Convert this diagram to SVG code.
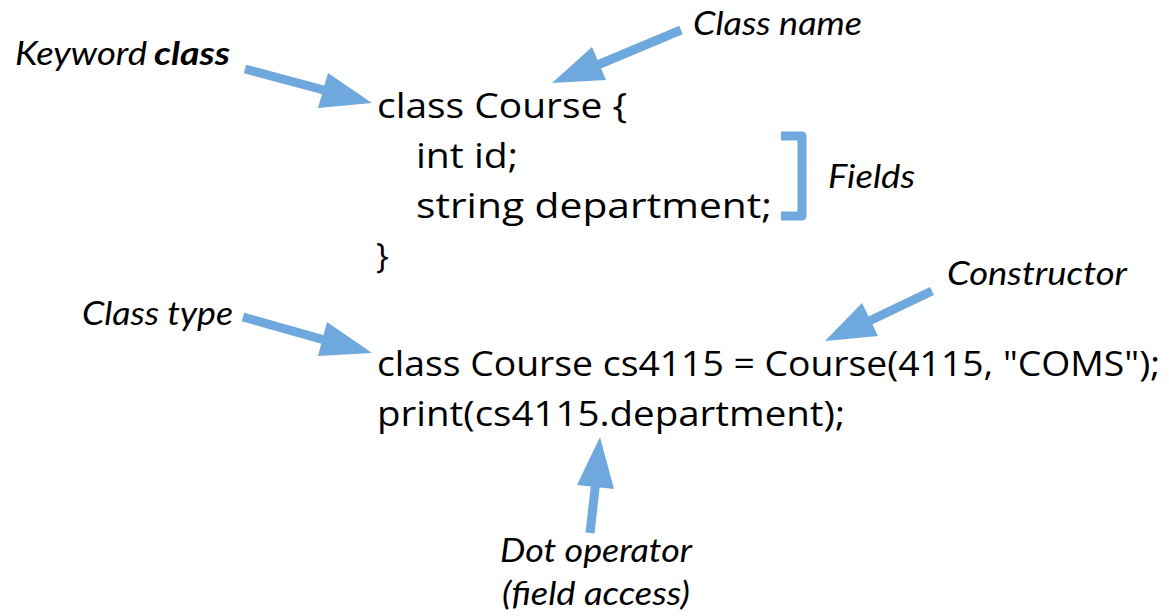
<svg xmlns="http://www.w3.org/2000/svg" width="1169" height="616" viewBox="0 0 1169 616">
<style>
.code{font-family:"Open Sans","Noto Sans",sans-serif;font-size:34px;fill:#000}
.lbl{font-family:Lato,"Liberation Sans",sans-serif;font-style:italic;font-size:32px;fill:#000}
.b{font-weight:bold}
.ln{stroke:#6fa8dc;stroke-width:9;fill:none}
.hd{fill:#6fa8dc}
</style>
<rect width="1169" height="616" fill="#fff"/>
<g id="code">
<text class="code" x="377" y="118" textLength="250" lengthAdjust="spacingAndGlyphs">class Course {</text>
<text class="code" x="416" y="168" textLength="102" lengthAdjust="spacingAndGlyphs">int id;</text>
<text class="code" x="416" y="218" textLength="356" lengthAdjust="spacingAndGlyphs">string department;</text>
<text class="code" x="376" y="268">}</text>
<text class="code" x="377" y="376" textLength="783" lengthAdjust="spacingAndGlyphs">class Course cs4115 = Course(4115, "COMS");</text>
<text class="code" x="377" y="426" textLength="468" lengthAdjust="spacingAndGlyphs">print(cs4115.department);</text>
</g>
<g id="label-keyword"><text class="lbl" x="15" y="65" textLength="132" lengthAdjust="spacingAndGlyphs">Keyword</text><text class="lbl b" x="154" y="65" textLength="76" lengthAdjust="spacingAndGlyphs">class</text></g>
<g id="label-classname"><text class="lbl" x="693" y="35" textLength="169" lengthAdjust="spacingAndGlyphs">Class name</text></g>
<g id="label-fields"><text class="lbl" x="828" y="188" textLength="87" lengthAdjust="spacingAndGlyphs">Fields</text></g>
<g id="label-constructor"><text class="lbl" x="947" y="285" textLength="180" lengthAdjust="spacingAndGlyphs">Constructor</text></g>
<g id="label-classtype"><text class="lbl" x="82" y="325" textLength="151" lengthAdjust="spacingAndGlyphs">Class type</text></g>
<g id="label-dot"><text class="lbl" x="500" y="562" textLength="192" lengthAdjust="spacingAndGlyphs">Dot operator</text><text class="lbl" x="502" y="605" textLength="188" lengthAdjust="spacingAndGlyphs">(field access)</text></g>
<g id="connectors">
<line class="ln" x1="245" y1="69" x2="335" y2="93"/>
<polygon class="hd" points="372,103 328,73 318,108"/>
<line class="ln" x1="681" y1="30" x2="595" y2="66"/>
<polygon class="hd" points="552,83 592,47 606,80"/>
<line class="ln" x1="243" y1="317" x2="335" y2="343"/>
<polygon class="hd" points="372,353 327,322 318,356"/>
<line class="ln" x1="932" y1="291" x2="865" y2="323"/>
<polygon class="hd" points="825,341 862,303 878,336"/>
<line class="ln" x1="590" y1="533" x2="596" y2="480"/>
<polygon class="hd" points="600,437 577,485 614,489"/>
<path class="ln" d="M781,136 H802 V216 H781" stroke-width="7" stroke-linejoin="round"/>
</g>
</svg>
